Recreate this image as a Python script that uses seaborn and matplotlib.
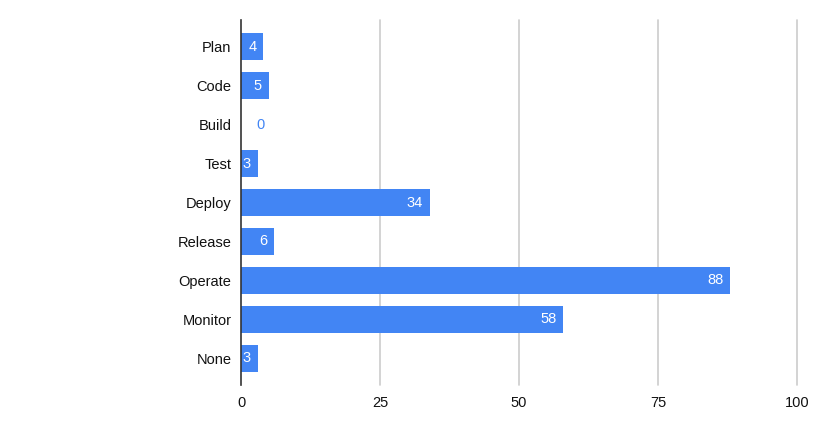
import matplotlib
matplotlib.use("Agg")
import matplotlib.pyplot as plt
import seaborn as sns
import pandas as pd

categories = ["Plan", "Code", "Build", "Test", "Deploy", "Release", "Operate", "Monitor", "None"]
values = [4, 5, 0, 3, 34, 6, 88, 58, 3]
x_ticks = [0, 25, 50, 75, 100]

sns.set_theme(style="white")
plt.rcParams['font.family'] = ['Liberation Sans', 'DejaVu Sans']

df = pd.DataFrame({"stage": categories, "count": values})

fig = plt.figure(figsize=(8.3, 4.36), dpi=100)
ax = fig.add_axes([241/830, 1-385/436, (797-241)/830, (385-20)/436])

bar_color = "#4285F4"
sns.barplot(data=df, y="stage", x="count", orient="h", color=bar_color,
            saturation=1, width=0.67, ax=ax, zorder=3)

fs = 10.5
ax.set_xlim(0, 100)
ax.set_ylim(len(categories) - 1 + 0.68, -0.68)
ax.set_xticks(x_ticks)
ax.set_xticklabels([str(t) for t in x_ticks], fontsize=fs, color="#111111")
ax.tick_params(axis="y", labelsize=fs, labelcolor="#111111", length=0, pad=7)
ax.tick_params(axis="x", length=0, pad=8)
ax.set_xlabel("")
ax.set_ylabel("")

for t in x_ticks[1:]:
    ax.axvline(t, color="#cccccc", lw=1.2, zorder=1, clip_on=False)

for s in ["top", "right", "bottom"]:
    ax.spines[s].set_visible(False)
ax.spines["left"].set_color("#333333")
ax.spines["left"].set_linewidth(1.2)
ax.spines["left"].set_zorder(4)

for p in ax.patches:
    p.set_edgecolor("none")

for i, v in enumerate(values):
    if v > 0:
        ax.annotate(str(v), xy=(v, i), xytext=(-5, 0), textcoords="offset points",
                    ha="right", va="center", color="white", fontsize=fs, zorder=5)
    else:
        ax.annotate(str(v), xy=(v, i), xytext=(11, 0), textcoords="offset points",
                    ha="left", va="center", color=bar_color, fontsize=fs, zorder=5)

fig.savefig("out.png", dpi=100)
